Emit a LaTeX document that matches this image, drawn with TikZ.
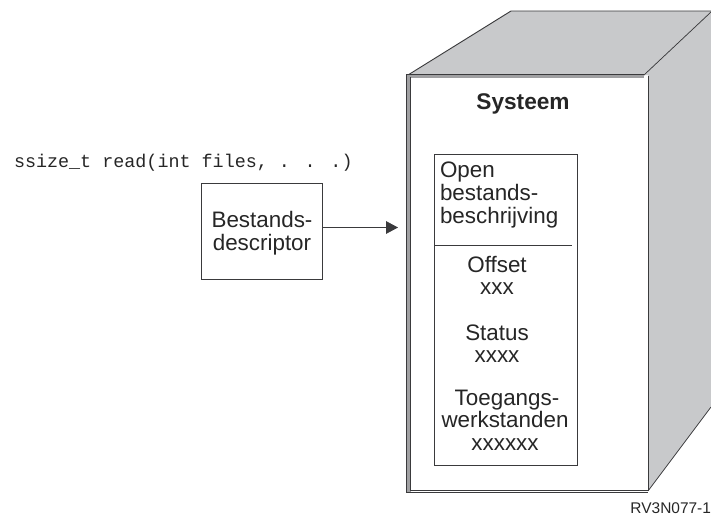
\documentclass[tikz,border=0pt]{standalone}
\usepackage{fontspec}
\setmainfont{Liberation Sans}
\newfontfamily\codefont{Liberation Mono}
\usetikzlibrary{arrows.meta}
\definecolor{linegray}{HTML}{3A3A3C}
\definecolor{sidegray}{HTML}{C8C9CB}
\definecolor{edgegray}{HTML}{A0A0A2}
\tikzset{
  every node/.style={inner sep=0pt,outer sep=0pt,text=black!85},
  labeltext/.style={font=\fontsize{16.8}{16}\selectfont,anchor=base},
  outline/.style={draw=linegray,line width=0.7pt,line join=miter},
}
\begin{document}
\begin{tikzpicture}[x=0.75pt,y=-0.75pt]
\useasboundingbox (0,0) rectangle (711,518);
% cabinet
\fill[sidegray] (409,75) -- (511,11) -- (711,11) -- (711,407) -- (648,491) -- (648,75) -- cycle;
\draw[outline] (408,75) -- (511,11) -- (711,11);
\draw[linegray,line width=0.55pt] (644,75) -- (711,12);
\draw[linegray,line width=0.55pt] (648,491) -- (711,407);
\fill[white] (410,76) rectangle (648,491);
\fill[edgegray] (407,75) rectangle (410.5,492);
\fill[edgegray] (407,75) rectangle (644,77.5);
\draw[outline] (648,76) -- (648,491);
\draw[linegray,line width=0.7pt] (644,74.5) -- (406.5,74.5) -- (406.5,492.5) -- (648,492.5);
\draw[linegray,line width=0.55pt] (410.5,77) -- (410.5,490.5) -- (648,490.5);
\node[font=\bfseries\fontsize{17}{18}\selectfont,anchor=base] (title) at (523,109) {Systeem};
% open file description
\draw[outline,fill=white] (434,154.5) rectangle (577,465.5);
\draw[linegray,line width=0.55pt] (434,245) -- (572,245);
\node[labeltext,anchor=base west] (open) at (440,177) {Open};
\node[labeltext,anchor=base west] (openb) at (440,200) {bestands-};
\node[labeltext,anchor=base west] (openc) at (440,223) {beschrijving};
\node[labeltext] (offset) at (497,272) {Offset};
\node[labeltext] (offsetv) at (497,294) {xxx};
\node[labeltext] (status) at (497,340) {Status};
\node[labeltext] (statusv) at (497,362) {xxxx};
\node[labeltext] (access) at (507,405) {Toegangs-};
\node[labeltext] (accessb) at (505,427) {werkstanden};
\node[labeltext] (accessv) at (505,450) {xxxxxx};
% code line and descriptor
\node[font=\codefont\fontsize{13.8}{16}\selectfont,anchor=base west] (code) at (14,167) {ssize\_t read(int files, . . .)};
\node[draw=linegray,line width=0.7pt,minimum width=90.75pt,minimum height=72pt,anchor=north west] (fd) at (201.5,183.5) {};
\node[labeltext] (fda) at (262,227) {Bestands-};
\node[labeltext] (fdb) at (262,250) {descriptor};
\coordinate (target) at (398,227.5);
\draw[linegray,line width=0.6pt,-{Triangle[length=9pt,width=9.5pt]}] (fd.east |- target) -- (target);
\node[font=\fontsize{11.6}{14}\selectfont,anchor=east] (ref) at (711,508) {RV3N077-1};
\end{tikzpicture}
\end{document}
